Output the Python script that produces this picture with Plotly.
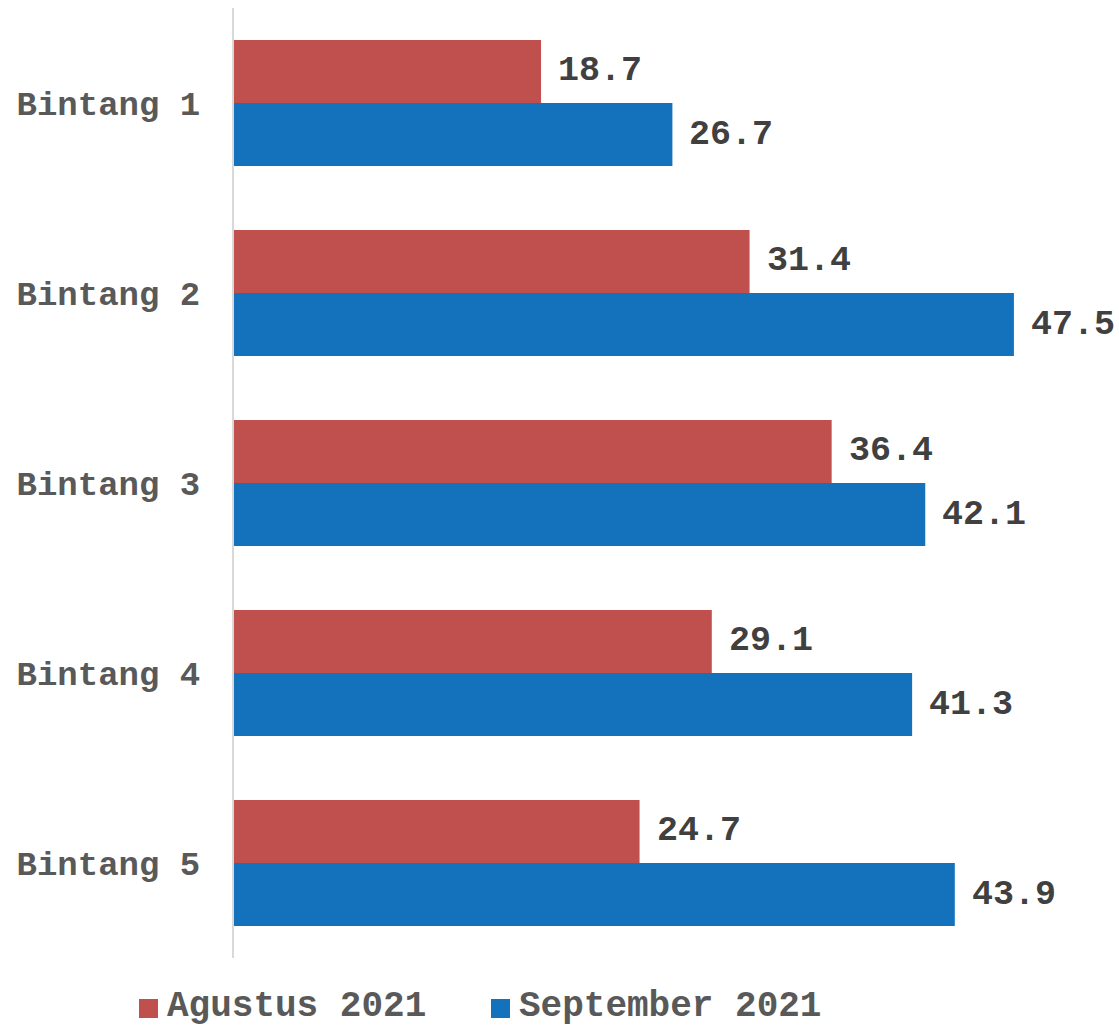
import plotly.graph_objects as go

categories = ["Bintang 1", "Bintang 2", "Bintang 3", "Bintang 4", "Bintang 5"]
agustus = [18.7, 31.4, 36.4, 29.1, 24.7]
september = [26.7, 47.5, 42.1, 41.3, 43.9]
series_names = ["Agustus 2021", "September 2021"]

RED = "#c0504d"
BLUE = "#1372bb"
FONT = "Liberation Mono, Courier New, monospace"
W, H = 1119, 1026
ML, MR, MT, MB = 234, 0, 8, 68

fig = go.Figure()
fig.add_trace(go.Bar(y=categories, x=agustus, orientation="h", name=series_names[0],
                     marker=dict(color=RED, line=dict(width=0)), showlegend=False))
fig.add_trace(go.Bar(y=categories, x=september, orientation="h", name=series_names[1],
                     marker=dict(color=BLUE, line=dict(width=0)), showlegend=False))

# data labels
for vals, off in ((agustus, -0.166), (september, 0.166)):
    for i, v in enumerate(vals):
        fig.add_annotation(x=v, y=i + off, text=f"<b>{v:.1f}</b>", showarrow=False,
                           xanchor="left", yanchor="middle", xshift=15,
                           font=dict(family=FONT, size=35, color="#404040"))

# legend (drawn manually for exact spacing)
def px_x(px):
    return (px - ML) / (W - ML - MR)

def px_y(py):
    return (H - MB - py) / (H - MT - MB)

legend_items = [(series_names[0], RED, 139), (series_names[1], BLUE, 491)]
for name, color, left in legend_items:
    fig.add_shape(type="rect", xref="paper", yref="paper",
                  x0=px_x(left), x1=px_x(left + 19), y0=px_y(1018), y1=px_y(999),
                  fillcolor=color, line=dict(width=0))
    fig.add_annotation(xref="paper", yref="paper", x=px_x(left + 27), y=px_y(1007),
                       text=f"<b>{name}</b>", showarrow=False, xanchor="left", yanchor="middle",
                       font=dict(family=FONT, size=36, color="#595959"), borderpad=0)

fig.update_layout(
    width=W, height=H,
    margin=dict(l=ML, r=MR, t=MT, b=MB, autoexpand=False),
    barmode="group", bargap=0.337, bargroupgap=0,
    plot_bgcolor="white", paper_bgcolor="white",
    font=dict(family=FONT),
    showlegend=False,
    xaxis=dict(range=[0, 53.9], showgrid=False, showticklabels=False, zeroline=False,
               showline=False, fixedrange=True, automargin=False),
    yaxis=dict(autorange="reversed", showgrid=False, showline=True, linecolor="#d9d9d9",
               linewidth=2, ticks="", ticklabelstandoff=25, automargin=False,
               tickfont=dict(family=FONT, size=34, color="#595959", weight="bold")),
)

fig.write_html("out.html", config={"displayModeBar": False},
               post_script="document.body.style.margin='0';")
